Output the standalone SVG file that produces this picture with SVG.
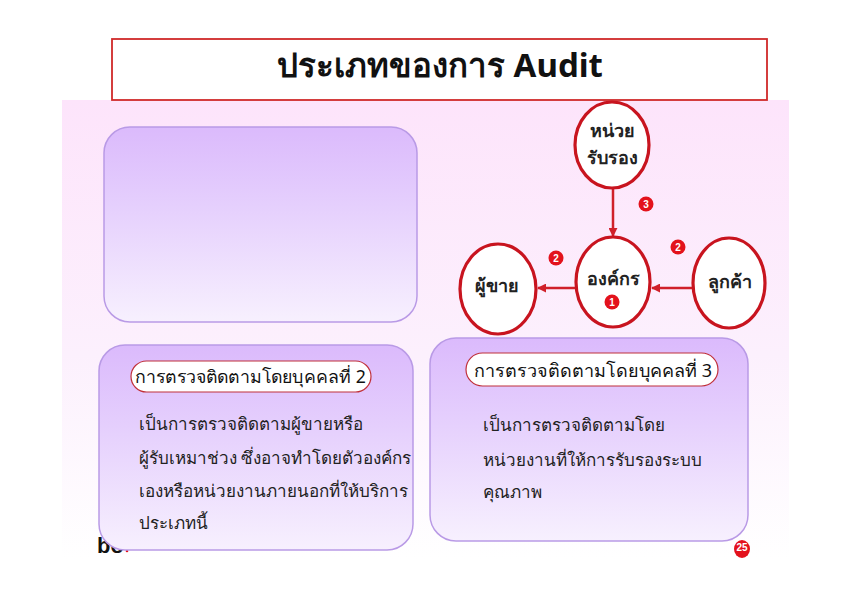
<svg xmlns="http://www.w3.org/2000/svg" width="850" height="601" viewBox="0 0 850 601">
<defs>
<linearGradient id="bg" x1="0" y1="0" x2="0" y2="1">
<stop offset="0" stop-color="#fde4fb"/>
<stop offset="0.55" stop-color="#fcf0fd"/>
<stop offset="1" stop-color="#ffffff"/>
</linearGradient>
<linearGradient id="box" x1="0" y1="0" x2="0" y2="1">
<stop offset="0" stop-color="#dbbafc"/>
<stop offset="0.4" stop-color="#e5cffd"/>
<stop offset="1" stop-color="#f7f0fe"/>
</linearGradient>
<marker id="ah" viewBox="0 0 10 10" refX="9" refY="5" markerWidth="9" markerHeight="9" markerUnits="userSpaceOnUse" orient="auto">
<path d="M0,0 L10,5 L0,10 z" fill="#d0202a"/>
</marker>
<style>
.t{font-family:"Noto Sans","DejaVu Sans",sans-serif;fill:#111}
.box{fill:url(#box);stroke:#b99ae6;stroke-width:1.5}
.pill{fill:#fff;stroke:#c0303a;stroke-width:1.2}
.node{fill:#fff;stroke:#c8141f;stroke-width:3.2}
.nt{font-family:"Noto Sans","DejaVu Sans",sans-serif;font-weight:bold;font-size:18px;fill:#222;text-anchor:middle}
.badge{fill:#e3121c}
.bt{font-family:"Liberation Sans",sans-serif;font-weight:bold;font-size:10px;fill:#fff;text-anchor:middle}
.body{font-family:"Noto Sans","DejaVu Sans",sans-serif;font-size:17px;fill:#222}
.conn{stroke:#d0202a;stroke-width:2.5;fill:none}
</style>
</defs>
<rect x="0" y="0" width="850" height="601" fill="#fff"/>
<rect x="62" y="100" width="727" height="460" fill="url(#bg)"/>
<text x="97" y="553" font-family="Liberation Sans,sans-serif" font-weight="bold" font-size="22" fill="#111">bo</text>
<circle cx="127" cy="551" r="1.3" fill="#e3121c"/>

<g id="title">
<rect x="112" y="39" width="655" height="61" fill="#fff" stroke="#d02a2a" stroke-width="1.8"/>
<text x="440" y="77" class="t" font-size="33" font-weight="bold" text-anchor="middle">ประเภทของการ Audit</text>
</g>

<g id="box-top"><rect class="box" x="104" y="127" width="313" height="195" rx="26"/></g>

<g id="box-2">
<rect class="box" x="99" y="345" width="314" height="205" rx="26"/>
<rect class="pill" x="131" y="361" width="240" height="31" rx="15.5"/>
<text class="t" x="135" y="383" font-size="17.5" textLength="231" lengthAdjust="spacingAndGlyphs">การตรวจติดตามโดยบุคคลที่ 2</text>
<text class="body" x="139" y="430">เป็นการตรวจติดตามผู้ขายหรือ</text>
<text class="body" x="139" y="464">ผู้รับเหมาช่วง ซึ่งอาจทำโดยตัวองค์กร</text>
<text class="body" x="139" y="497">เองหรือหน่วยงานภายนอกที่ให้บริการ</text>
<text class="body" x="139" y="529">ประเภทนี้</text>
</g>

<g id="box-3">
<rect class="box" x="430" y="338" width="318" height="203" rx="26"/>
<rect class="pill" x="466" y="353" width="252" height="33" rx="16.5"/>
<text class="t" x="474" y="377" font-size="18" textLength="238" lengthAdjust="spacingAndGlyphs">การตรวจติดตามโดยบุคคลที่ 3</text>
<text class="body" x="483" y="431" font-size="16.5">เป็นการตรวจติดตามโดย</text>
<text class="body" x="483" y="466" font-size="16.5">หน่วยงานที่ให้การรับรองระบบ</text>
<text class="body" x="483" y="498" font-size="16.5">คุณภาพ</text>
</g>

<g id="connectors">
<line class="conn" x1="613" y1="189" x2="613" y2="236" marker-end="url(#ah)"/>
<line class="conn" x1="576" y1="288" x2="538" y2="288" marker-end="url(#ah)"/>
<line class="conn" x1="692" y1="288" x2="652" y2="288" marker-end="url(#ah)"/>
</g>

<g id="node-cert">
<ellipse class="node" cx="612" cy="145" rx="37" ry="43"/>
<text class="nt" x="612" y="137">หน่วย</text>
<text class="nt" x="612" y="164">รับรอง</text>
</g>
<g id="node-org">
<ellipse class="node" cx="613" cy="282" rx="37" ry="45"/>
<text class="nt" x="613" y="285">องค์กร</text>
</g>
<g id="node-vendor">
<ellipse class="node" cx="498" cy="289" rx="38" ry="45"/>
<text class="nt" x="497" y="292">ผู้ขาย</text>
</g>
<g id="node-customer">
<ellipse class="node" cx="729" cy="283" rx="36" ry="45"/>
<text class="nt" x="730" y="288">ลูกค้า</text>
</g>

<g id="badges">
<circle class="badge" cx="646" cy="204" r="7.5"/><text class="bt" x="646" y="207.5">3</text>
<circle class="badge" cx="678" cy="247" r="7.5"/><text class="bt" x="678" y="250.5">2</text>
<circle class="badge" cx="556" cy="258" r="7.5"/><text class="bt" x="556" y="261.5">2</text>
<circle class="badge" cx="612" cy="302" r="7.5"/><text class="bt" x="612" y="305.5">1</text>
<ellipse class="badge" cx="742" cy="549" rx="8" ry="9"/><text class="bt" x="742" y="551" font-size="6">25</text>
</g>
</svg>
